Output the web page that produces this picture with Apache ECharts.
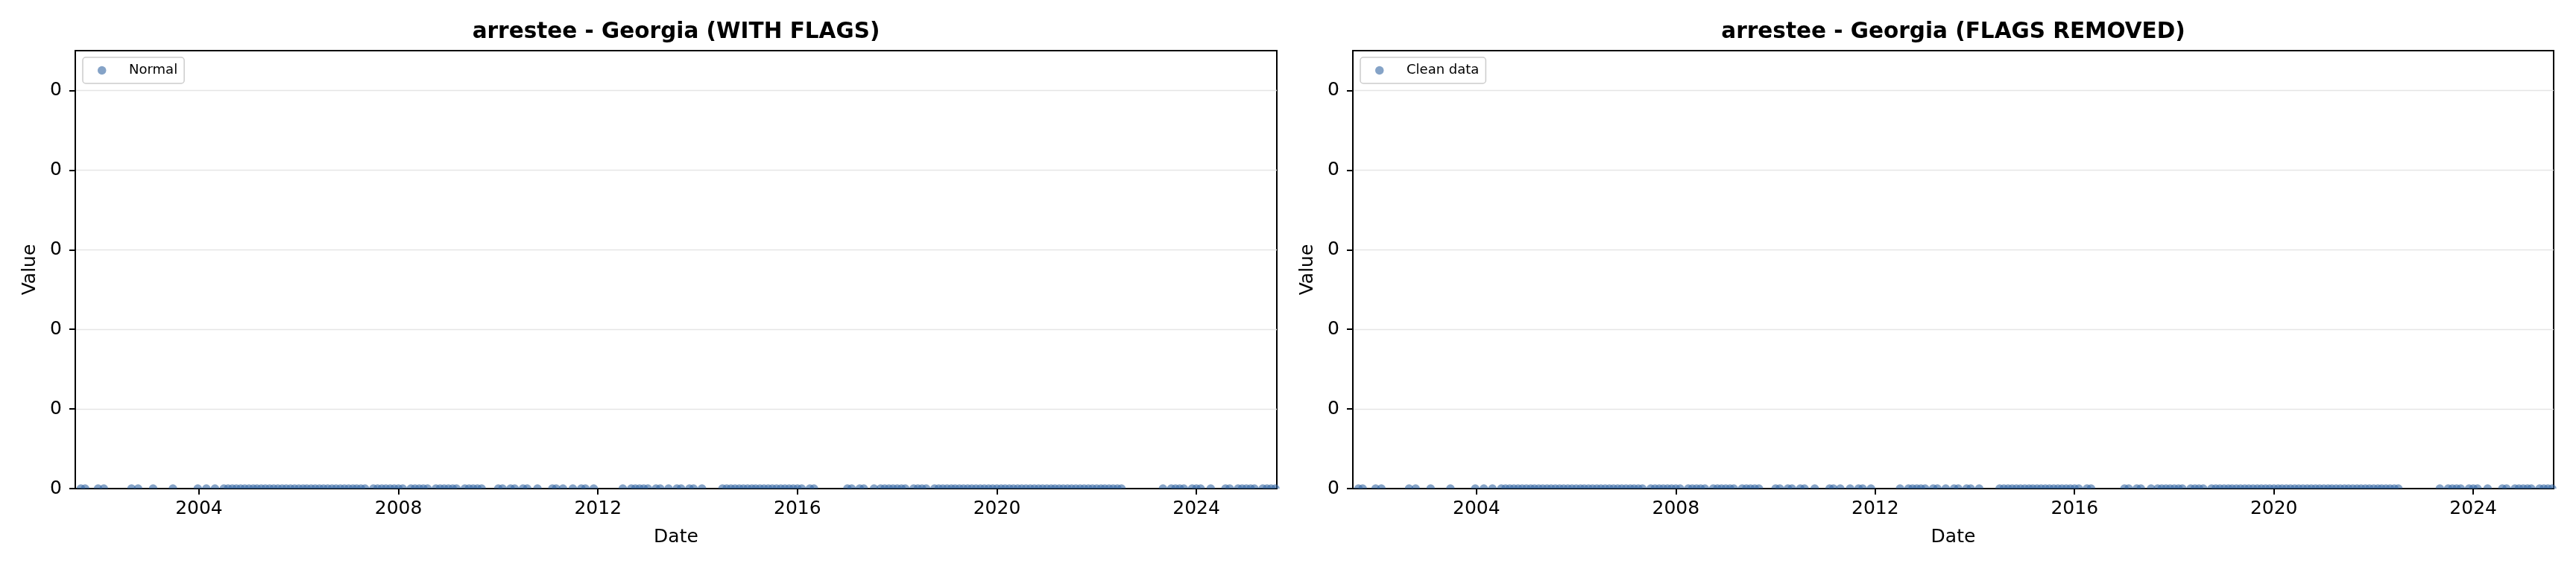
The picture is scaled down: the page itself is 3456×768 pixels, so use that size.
<!DOCTYPE html>
<html>
<head>
<meta charset="utf-8">
<script src="https://cdn.jsdelivr.net/npm/echarts@6/dist/echarts.min.js"></script>
<style>
html,body{margin:0;padding:0;background:#fff;}
#chart{width:3456px;height:768px;}
</style>
</head>
<body>
<div id="chart"></div>
<script>
// ---- DATA ----
const panelTitles = ['arrestee - Georgia (WITH FLAGS)', 'arrestee - Georgia (FLAGS REMOVED)'];
const seriesNames = ['Normal', 'Clean data'];
const xTickYears = [2004, 2008, 2012, 2016, 2020, 2024];
const yTickValues = [0, 1, 2, 3, 4, 5];
const yTickLabels = ['0', '0', '0', '0', '0', '0'];

const dates = [
  '2001-08-19','2001-09-19','2001-12-23','2002-02-03','2002-08-25','2002-10-12','2003-01-30','2003-06-24','2003-12-23','2004-02-24',
  '2004-04-27','2004-07-01','2004-08-01','2004-09-01','2004-10-01','2004-11-01','2004-12-01','2005-01-01','2005-02-01','2005-03-01',
  '2005-04-01','2005-05-01','2005-06-01','2005-07-01','2005-08-01','2005-09-01','2005-10-01','2005-11-01','2005-12-01','2006-01-01',
  '2006-02-01','2006-03-01','2006-04-01','2006-05-01','2006-06-01','2006-07-01','2006-08-01','2006-09-01','2006-10-01','2006-11-01',
  '2006-12-01','2007-01-01','2007-02-01','2007-03-01','2007-04-01','2007-05-01','2007-07-01','2007-08-01','2007-09-01','2007-10-01',
  '2007-11-01','2007-12-01','2008-01-01','2008-02-01','2008-04-01','2008-05-01','2008-06-01','2008-07-01','2008-08-01','2008-10-01',
  '2008-11-01','2008-12-01','2009-01-01','2009-02-01','2009-03-01','2009-05-01','2009-06-01','2009-07-01','2009-08-01','2009-09-01',
  '2010-01-01','2010-02-01','2010-04-01','2010-05-01','2010-07-01','2010-08-01','2010-10-15','2011-02-01','2011-03-01','2011-04-20',
  '2011-07-01','2011-09-01','2011-10-01','2011-12-01','2012-07-01','2012-09-01','2012-10-01','2012-11-01','2012-12-01','2013-01-01',
  '2013-03-01','2013-04-01','2013-06-01','2013-08-01','2013-09-01','2013-11-01','2013-12-01','2014-02-01','2014-07-01','2014-08-01',
  '2014-09-01','2014-10-01','2014-11-01','2014-12-01','2015-01-01','2015-02-01','2015-03-01','2015-04-01','2015-05-01','2015-06-01',
  '2015-07-01','2015-08-01','2015-09-01','2015-10-01','2015-11-01','2015-12-01','2016-01-01','2016-02-01','2016-04-01','2016-05-01',
  '2017-01-01','2017-02-01','2017-04-01','2017-05-01','2017-07-15','2017-09-01','2017-10-01','2017-11-01','2017-12-01','2018-01-01',
  '2018-02-01','2018-03-01','2018-05-01','2018-06-01','2018-07-01','2018-08-01','2018-10-01','2018-11-01','2018-12-01','2019-01-01',
  '2019-02-01','2019-03-01','2019-04-01','2019-05-01','2019-06-01','2019-07-01','2019-08-01','2019-09-01','2019-10-01','2019-11-01',
  '2019-12-01','2020-01-01','2020-02-01','2020-03-01','2020-04-01','2020-05-01','2020-06-01','2020-07-01','2020-08-01','2020-09-01',
  '2020-10-01','2020-11-01','2020-12-01','2021-01-01','2021-02-01','2021-03-01','2021-04-01','2021-05-01','2021-06-01','2021-07-01',
  '2021-08-01','2021-09-01','2021-10-01','2021-11-01','2021-12-01','2022-01-01','2022-02-01','2022-03-01','2022-04-01','2022-05-01',
  '2022-06-01','2022-07-01','2023-05-01','2023-07-01','2023-08-01','2023-09-01','2023-10-01','2023-12-01','2024-01-01','2024-02-01',
  '2024-04-15','2024-08-01','2024-09-01','2024-11-01','2024-12-01','2025-01-01','2025-02-01','2025-03-01','2025-05-01','2025-06-01',
  '2025-07-01','2025-08-01'
];

const valuesWithFlags = [
  0,0,0,0,0,0,0,0,0,0,
  0,0,0,0,0,0,0,0,0,0,
  0,0,0,0,0,0,0,0,0,0,
  0,0,0,0,0,0,0,0,0,0,
  0,0,0,0,0,0,0,0,0,0,
  0,0,0,0,0,0,0,0,0,0,
  0,0,0,0,0,0,0,0,0,0,
  0,0,0,0,0,0,0,0,0,0,
  0,0,0,0,0,0,0,0,0,0,
  0,0,0,0,0,0,0,0,0,0,
  0,0,0,0,0,0,0,0,0,0,
  0,0,0,0,0,0,0,0,0,0,
  0,0,0,0,0,0,0,0,0,0,
  0,0,0,0,0,0,0,0,0,0,
  0,0,0,0,0,0,0,0,0,0,
  0,0,0,0,0,0,0,0,0,0,
  0,0,0,0,0,0,0,0,0,0,
  0,0,0,0,0,0,0,0,0,0,
  0,0,0,0,0,0,0,0,0,0,
  0,0,0,0,0,0,0,0,0,0,
  0,0
];
const valuesClean = [
  0,0,0,0,0,0,0,0,0,0,
  0,0,0,0,0,0,0,0,0,0,
  0,0,0,0,0,0,0,0,0,0,
  0,0,0,0,0,0,0,0,0,0,
  0,0,0,0,0,0,0,0,0,0,
  0,0,0,0,0,0,0,0,0,0,
  0,0,0,0,0,0,0,0,0,0,
  0,0,0,0,0,0,0,0,0,0,
  0,0,0,0,0,0,0,0,0,0,
  0,0,0,0,0,0,0,0,0,0,
  0,0,0,0,0,0,0,0,0,0,
  0,0,0,0,0,0,0,0,0,0,
  0,0,0,0,0,0,0,0,0,0,
  0,0,0,0,0,0,0,0,0,0,
  0,0,0,0,0,0,0,0,0,0,
  0,0,0,0,0,0,0,0,0,0,
  0,0,0,0,0,0,0,0,0,0,
  0,0,0,0,0,0,0,0,0,0,
  0,0,0,0,0,0,0,0,0,0,
  0,0,0,0,0,0,0,0,0,0,
  0,0
];

const xMin = '2001-07-09';
const xMax = '2025-08-12';
const yMax = 5.5;

// ---- CHART ----
const FONT = 'DejaVu Sans';
const grids = [
  { left: 101, top: 68, width: 1612, height: 588 },
  { left: 1815, top: 68, width: 1611, height: 588 }
];
const pointColor = '#3466a1';

const toTime = s => new Date(s).getTime(); // ISO date -> UTC ms
function pairs(vals) { return dates.map((d, i) => [toTime(d), vals[i]]); }
const tickTimes = xTickYears.map(y => Date.UTC(y, 0, 1));

const chart = echarts.init(document.getElementById('chart'), null, { renderer: 'canvas' });

const xAxes = grids.map((g, i) => ({
  type: 'value', gridIndex: i,
  min: toTime(xMin), max: toTime(xMax),
  name: 'Date', nameLocation: 'middle', nameGap: 53,
  nameTextStyle: { fontFamily: FONT, fontSize: 25, color: '#000' },
  axisLine: { show: true, onZero: false, lineStyle: { color: '#000', width: 2 } },
  axisTick: { show: true, length: 8, lineStyle: { color: '#000', width: 2 }, customValues: tickTimes },
  axisLabel: {
    customValues: tickTimes, margin: 15, fontFamily: FONT, fontSize: 25, color: '#000',
    formatter: v => String(new Date(v).getUTCFullYear())
  },
  splitLine: { show: false }
}));

const yAxes = grids.map((g, i) => ({
  type: 'value', gridIndex: i, min: 0, max: yMax, interval: 1,
  name: 'Value', nameLocation: 'middle', nameGap: 48,
  nameTextStyle: { fontFamily: FONT, fontSize: 25, color: '#000' },
  axisLine: { show: true, lineStyle: { color: '#000', width: 2 } },
  axisTick: { show: true, length: 8, lineStyle: { color: '#000', width: 2 }, customValues: yTickValues },
  axisLabel: {
    customValues: yTickValues, margin: 18, fontFamily: FONT, fontSize: 25, color: '#000',
    formatter: v => { const k = yTickValues.indexOf(v); return k >= 0 ? yTickLabels[k] : ''; }
  },
  splitLine: { show: true, lineStyle: { color: '#e5e5e5', width: 1.3 } }
}));

const option = {
  backgroundColor: '#fff',
  animation: false,
  title: grids.map((g, i) => ({
    text: panelTitles[i],
    left: g.left + g.width / 2, top: 28, textAlign: 'center', padding: 0,
    textStyle: { fontFamily: FONT, fontSize: 29.5, fontWeight: 'bold', color: '#000', lineHeight: 30 }
  })),
  legend: grids.map((g, i) => ({
    data: [{ name: seriesNames[i], icon: 'circle' }],
    left: g.left + 10, top: 77,
    orient: 'vertical',
    padding: [7, 9, 7, 20],
    itemWidth: 11.5, itemHeight: 11.5,
    itemStyle: { opacity: 0.6 },
    backgroundColor: 'rgba(255,255,255,0.8)',
    borderColor: '#cccccc', borderWidth: 1.5, borderRadius: 4,
    textStyle: { fontFamily: FONT, fontSize: 18, color: '#000', padding: [0, 0, 0, 25.5], lineHeight: 21 },
    selectedMode: false
  })),
  grid: grids.map(g => Object.assign({ show: true, borderColor: '#000', borderWidth: 2, backgroundColor: 'transparent' }, g)),
  xAxis: xAxes,
  yAxis: yAxes,
  series: [valuesWithFlags, valuesClean].map((vals, i) => ({
    type: 'scatter', name: seriesNames[i], xAxisIndex: i, yAxisIndex: i,
    data: pairs(vals),
    symbol: 'path://M0 10A10 10 0 0 1 20 10Z',
    symbolSize: [11.5, 5.75],
    symbolOffset: [0, '-50%'],
    itemStyle: { color: pointColor, opacity: 0.6 },
    z: 3
  }))
};
chart.setOption(option);
</script>
</body>
</html>
